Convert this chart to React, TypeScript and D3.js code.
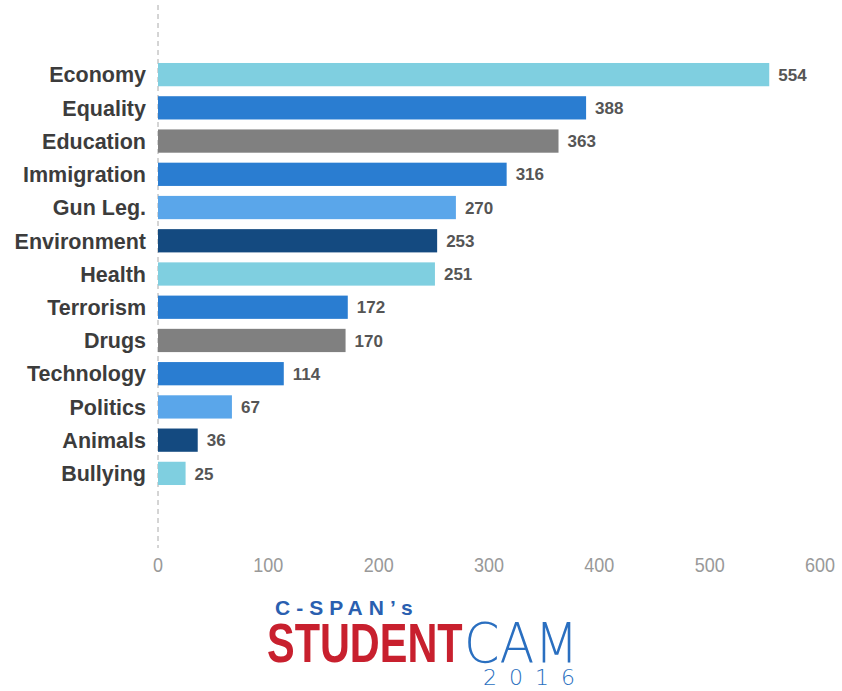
import React from "react";
import * as d3 from "d3";

const categories = ["Economy","Equality","Education","Immigration","Gun Leg.","Environment","Health","Terrorism","Drugs","Technology","Politics","Animals","Bullying"];
const values = [554,388,363,316,270,253,251,172,170,114,67,36,25];
const barColors = ["#7fcfe0","#2a7dd1","#808080","#2a7dd1","#5aa6ea","#144a80","#7fcfe0","#2a7dd1","#808080","#2a7dd1","#5aa6ea","#144a80","#7fcfe0"];
const xTicks = [0,100,200,300,400,500,600];

export default function App() {
  const W = 842, H = 691;
  const x = d3.scaleLinear().domain([0, 600]).range([158, 820]);
  const y = d3.scaleBand().domain(categories).range([58, 490]).paddingInner(0.3).paddingOuter(0.15);
  const sx = (cx: number, s: number) => `translate(${cx},0) scale(${s},1) translate(${-cx},0)`;
  return (
    <svg width={W} height={H} style={{ position: "absolute", left: 0, top: 0, background: "#fff" }}>
      <line x1={x(0)} x2={x(0)} y1={5} y2={548} stroke="#aaa" strokeDasharray="5,4" strokeWidth={1} />
      {categories.map((c, i) => (
        <g key={c}>
          <rect x={x(0)} y={y(c)} width={x(values[i]) - x(0)} height={y.bandwidth()} fill={barColors[i]} />
          <text x={146} y={y(c)! + y.bandwidth() / 2} dy="0.36em" textAnchor="end"
            fontFamily="Arial, Liberation Sans, sans-serif" fontWeight="bold" fontSize={21.5} fill="#3c3c3c">{c}</text>
          <text x={x(values[i]) + 9} y={y(c)! + y.bandwidth() / 2} dy="0.36em"
            fontFamily="Arial, Liberation Sans, sans-serif" fontWeight="bold" fontSize={17} fill="#555">{values[i]}</text>
        </g>
      ))}
      {xTicks.map(t => (
        <text key={t} x={x(t)} y={572} textAnchor="middle" fontFamily="Arial, Liberation Sans, sans-serif"
          fontSize={20} fill="#999" transform={sx(x(t), 0.9)}>{t}</text>
      ))}
      <g fontFamily="Arial, Liberation Sans, sans-serif">
        <text x={275} y={615} fontSize={21} fontWeight="bold" fill="#2a5fb0" letterSpacing={6}>C-SPAN’s</text>
        <text x={267} y={662} fontSize={56} fontWeight="bold" fill="#c8202e" transform={sx(267, 0.74)}>STUDENT</text>
        <text x={464} y={662} fontSize={56} fill="#2a6fc0" fontFamily="DejaVu Sans, sans-serif"
          style={{ fontWeight: 200 }} transform={sx(464, 0.91)}>CAM</text>
        <text x={483} y={685} fontSize={22} fill="#2a6fc0" fontFamily="DejaVu Sans, sans-serif"
          style={{ fontWeight: 200 }} letterSpacing={12}>2016</text>
      </g>
    </svg>
  );
}
